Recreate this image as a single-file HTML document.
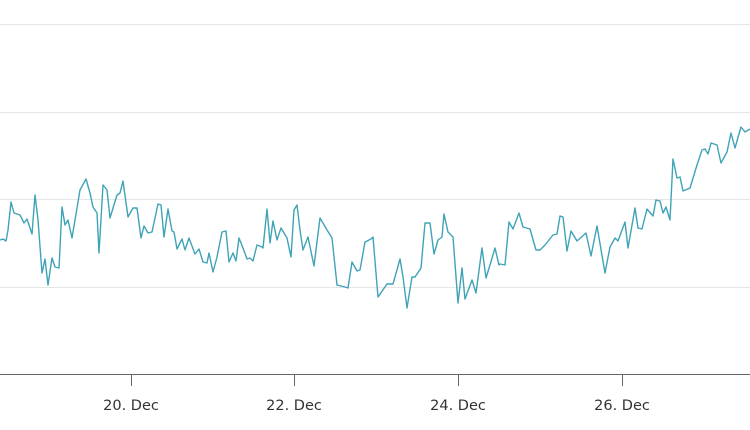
<!DOCTYPE html>
<html><head><style>body{margin:0;background:#fff}svg{display:block}</style></head><body>
<svg width="750" height="430" xmlns="http://www.w3.org/2000/svg">
<g stroke="#e6e6e6" stroke-width="1">
<line x1="0" y1="24.5" x2="750" y2="24.5"/><line x1="0" y1="112.5" x2="750" y2="112.5"/><line x1="0" y1="199.5" x2="750" y2="199.5"/><line x1="0" y1="287.5" x2="750" y2="287.5"/>
</g>
<line x1="0" y1="374.5" x2="750" y2="374.5" stroke="#666" stroke-width="1"/>
<g stroke="#666" stroke-width="1">
<line x1="131.5" y1="374" x2="131.5" y2="386"/><line x1="294.5" y1="374" x2="294.5" y2="386"/><line x1="458.5" y1="374" x2="458.5" y2="386"/><line x1="622.5" y1="374" x2="622.5" y2="386"/>
</g>
<g font-family="DejaVu Sans, sans-serif" font-size="14.5" fill="#333" text-anchor="middle">
<text x="131" y="410">20. Dec</text><text x="294" y="410">22. Dec</text><text x="458" y="410">24. Dec</text><text x="622" y="410">26. Dec</text>
</g>
<polyline fill="none" stroke="#3fa3b7" stroke-width="1.4" stroke-linejoin="round" points="0,240 3,239 6,241 8,230 11,202 14,213 20,215 24,223 27,219 32,234 35,195 38,220 42,273 45,259 48,285 52,258 55,267 59,268 62,207 65,225 68,220 72,238 80,190 86,179 90,193 93,207 97,213 99,253 103,185 107,190 110,218 117,195 120,193 123,181 128,217 133,208 137,208 141,238 144,226 148,233 152,232 158,204 161,205 164,237 168,209 172,231 174,232 177,249 182,239 185,250 189,238 195,254 199,249 203,262 207,263 209,253 213,272 217,257 222,232 226,231 229,262 233,253 236,261 239,238 243,248 247,259 250,258 253,261 257,245 262,247 263,248 267,209 270,243 273,221 277,240 281,228 287,238 291,257 294,210 297,205 300,230 303,250 308,237 314,266 320,218 327,230 332,238 337,285 345,287 348,288 352,262 357,271 360,270 365,242 371,239 373,237 378,297 387,284 393,284 400,259 403,277 407,308 412,277 415,277 421,268 425,223 430,223 434,254 438,240 442,237 444,214 448,232 453,237 458,303 462,268 465,299 472,280 476,293 482,248 486,278 490,265 495,248 499,265 500,264 505,265 509,222 513,229 519,213 523,227 530,229 536,250 540,250 545,245 553,235 557,234 560,216 563,217 567,251 571,231 577,241 586,233 591,256 597,226 605,273 610,247 615,238 618,241 625,222 628,248 635,208 638,228 642,229 647,209 653,216 656,200 660,201 663,213 666,207 670,220 673,159 677,178 680,177 683,191 690,188 697,165 702,150 705,149 708,154 711,143 717,145 721,163 727,152 731,133 735,148 741,127 745,132 750,129"/>
</svg>
</body></html>
